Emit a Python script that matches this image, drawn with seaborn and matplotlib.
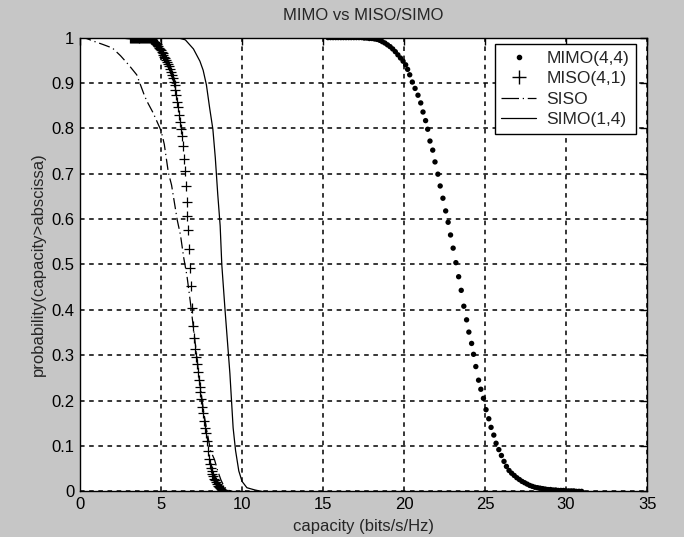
import matplotlib

matplotlib.use("Agg")
import matplotlib.pyplot as plt
import seaborn as sns
from matplotlib.lines import Line2D

# MIMO(4,4) complementary CDF (dots)
mimo_x = [
    15.30, 15.46, 15.62, 15.78, 15.94, 16.10, 16.26, 16.42, 16.58, 16.74,
    16.90, 17.06, 17.22, 17.38, 17.54, 17.70, 17.86, 18.02, 18.18, 18.34,
    18.50, 18.66, 18.82, 18.98, 19.14, 19.30, 19.46, 19.62, 19.78, 19.94,
    20.10, 20.22, 20.35, 20.51, 20.68, 20.86, 21.03, 21.17, 21.33, 21.46,
    21.60, 21.77, 21.91, 22.09, 22.23, 22.40, 22.57, 22.72, 22.87, 23.03,
    23.20, 23.37, 23.53, 23.69, 23.86, 24.00, 24.17, 24.29, 24.43, 24.60,
    24.74, 24.90, 25.06, 25.23, 25.37, 25.54, 25.68, 25.85, 26.01, 26.17,
    26.32, 26.48, 26.64, 26.80, 26.96, 27.12, 27.28, 27.44, 27.60, 27.76,
    27.92, 28.08, 28.24, 28.40, 28.56, 28.72, 28.88, 29.04, 29.20, 29.36,
    29.52, 29.68, 29.84, 30.00, 30.16, 30.32, 30.48, 30.64, 30.80, 30.96,
]
mimo_p = [
    1.000, 1.000, 1.000, 1.000, 1.000, 1.000, 1.000, 1.000, 1.000, 1.000,
    1.000, 1.000, 1.000, 1.000, 0.999, 0.999, 0.998, 0.998, 0.997, 0.996,
    0.994, 0.991, 0.988, 0.984, 0.980, 0.975, 0.969, 0.962, 0.955, 0.948,
    0.940, 0.930, 0.918, 0.902, 0.888, 0.873, 0.856, 0.836, 0.817, 0.798,
    0.772, 0.752, 0.726, 0.699, 0.673, 0.646, 0.618, 0.593, 0.565, 0.536,
    0.504, 0.473, 0.443, 0.408, 0.378, 0.351, 0.326, 0.302, 0.275, 0.245,
    0.225, 0.205, 0.180, 0.160, 0.141, 0.124, 0.106, 0.092, 0.079, 0.066,
    0.055, 0.046, 0.040, 0.035, 0.030, 0.026, 0.022, 0.019, 0.016, 0.013,
    0.011, 0.009, 0.008, 0.007, 0.006, 0.005, 0.004, 0.004, 0.003, 0.003,
    0.002, 0.002, 0.002, 0.001, 0.001, 0.001, 0.001, 0.000, 0.000, 0.000,
]

# MISO(4,1) complementary CDF (plus markers)
miso_x = [
    3.10, 3.16, 3.21, 3.27, 3.33, 3.39, 3.44, 3.50, 3.56, 3.61,
    3.67, 3.73, 3.78, 3.84, 3.90, 3.96, 4.01, 4.07, 4.13, 4.18,
    4.24, 4.30, 4.35, 4.41, 4.47, 4.53, 4.58, 4.64, 4.70, 4.75,
    4.81, 4.87, 4.92, 4.98, 5.04, 5.10, 5.15, 5.21, 5.27, 5.32,
    5.38, 5.44, 5.49, 5.55, 5.61, 5.67, 5.72, 5.78, 5.84, 5.89,
    5.95, 6.01, 6.06, 6.12, 6.18, 6.24, 6.29, 6.35, 6.41, 6.46,
    6.52, 6.58, 6.63, 6.69, 6.75, 6.81, 6.86, 6.92, 6.98, 7.03,
    7.09, 7.15, 7.20, 7.26, 7.32, 7.38, 7.43, 7.49, 7.55, 7.60,
    7.66, 7.72, 7.77, 7.83, 7.89, 7.95, 8.00, 8.06, 8.12, 8.17,
    8.23, 8.29, 8.34, 8.40, 8.46, 8.52, 8.57, 8.63, 8.69, 8.74,
    8.80,
]
miso_p = [
    1.000, 1.000, 1.000, 1.000, 1.000, 1.000, 1.000, 1.000, 1.000, 1.000,
    1.000, 1.000, 1.000, 1.000, 1.000, 1.000, 1.000, 0.999, 0.999, 0.999,
    0.998, 0.998, 0.997, 0.996, 0.994, 0.993, 0.991, 0.990, 0.988, 0.985,
    0.982, 0.978, 0.975, 0.972, 0.968, 0.965, 0.962, 0.958, 0.955, 0.951,
    0.947, 0.942, 0.938, 0.931, 0.924, 0.917, 0.910, 0.903, 0.895, 0.885,
    0.873, 0.859, 0.846, 0.830, 0.815, 0.798, 0.783, 0.760, 0.733, 0.707,
    0.673, 0.637, 0.607, 0.576, 0.535, 0.492, 0.452, 0.404, 0.364, 0.338,
    0.314, 0.295, 0.280, 0.262, 0.245, 0.230, 0.218, 0.203, 0.185, 0.172,
    0.155, 0.140, 0.128, 0.112, 0.089, 0.072, 0.060, 0.051, 0.044, 0.038,
    0.033, 0.028, 0.024, 0.020, 0.016, 0.012, 0.009, 0.007, 0.005, 0.003,
    0.002,
]

# SISO (dash-dot line)
siso_x = [0.0, 0.4, 1.0, 1.4, 2.0, 2.5, 3.0, 3.5, 4.0, 4.2, 4.5, 5.0, 5.2,
          5.45, 5.65, 6.0, 6.2, 6.4, 6.6, 6.8, 7.0, 7.2, 7.35, 7.5, 7.65,
          7.85, 8.05, 8.3, 8.5, 8.7, 8.9, 9.1, 9.4]
siso_p = [1.0, 0.998, 0.99, 0.985, 0.977, 0.96, 0.94, 0.918, 0.87, 0.855,
          0.835, 0.795, 0.765, 0.703, 0.675, 0.598, 0.565, 0.515, 0.475, 0.42,
          0.36, 0.30, 0.25, 0.21, 0.17, 0.13, 0.09, 0.07, 0.045, 0.025, 0.01,
          0.003, 0.0]

# SIMO(1,4) (solid line)
simo_x = [6.0, 6.5, 7.0, 7.4, 7.6, 7.8, 8.0, 8.2, 8.35, 8.5, 8.65, 8.75,
          8.95, 9.1, 9.25, 9.35, 9.45, 9.6, 9.8, 10.0, 10.3, 10.8, 11.2]
simo_p = [1.0, 0.995, 0.975, 0.948, 0.928, 0.896, 0.845, 0.798, 0.735,
          0.655, 0.585, 0.50, 0.40, 0.33, 0.26, 0.20, 0.14, 0.09, 0.045,
          0.022, 0.008, 0.003, 0.0]

x_ticks = [0, 5, 10, 15, 20, 25, 30, 35]
y_ticks = [0, 0.1, 0.2, 0.3, 0.4, 0.5, 0.6, 0.7, 0.8, 0.9, 1]
y_tick_labels = ["0", "0.1", "0.2", "0.3", "0.4", "0.5", "0.6", "0.7", "0.8", "0.9", "1"]

sns.set_style("white")
plt.rcParams["font.family"] = ["Liberation Sans", "DejaVu Sans"]

SISO_DASH = (0, (9, 3, 1, 3))

fig = plt.figure(figsize=(6.84, 5.37), dpi=100, facecolor="#c6c6c6")
ax = fig.add_axes([0.117, 0.085, 0.829, 0.845])
ax.set_facecolor("white")

sns.scatterplot(x=mimo_x, y=mimo_p, ax=ax, marker="o", s=15, color="black",
                edgecolor="none", zorder=3)
sns.scatterplot(x=miso_x, y=miso_p, ax=ax, marker="+", s=55, color="black",
                linewidth=0.9, zorder=3)
sns.lineplot(x=siso_x, y=siso_p, ax=ax, color="black", sort=False, estimator=None,
             linewidth=0.9, linestyle=SISO_DASH, zorder=3)
sns.lineplot(x=simo_x, y=simo_p, ax=ax, color="black", sort=False, estimator=None,
             linewidth=0.9, zorder=3)

ax.set_xlim(0, 35)
ax.set_ylim(0, 1)
ax.set_xticks(x_ticks)
ax.set_yticks(y_ticks)
ax.set_yticklabels(y_tick_labels)
ax.grid(True, color="black", linestyle=(0, (3, 3)), linewidth=1.1)
ax.tick_params(direction="in", length=5, width=1, colors="black", labelsize=12,
               top=True, right=True, pad=4)
for spine in ax.spines.values():
    spine.set_color("black")
    spine.set_linewidth(1.0)

ax.set_title("MIMO vs MISO/SIMO", fontsize=12, pad=13)
ax.set_xlabel("capacity (bits/s/Hz)", fontsize=12, labelpad=5)
ax.set_ylabel("probability(capacity>abscissa)", fontsize=12, labelpad=4)

handles = [
    Line2D([], [], color="black", marker="o", markersize=3, linestyle="none"),
    Line2D([], [], color="black", marker="+", markersize=10, linestyle="none"),
    Line2D([], [], color="black", linewidth=0.9, linestyle=(0, (14, 3, 1, 3))),
    Line2D([], [], color="black", linewidth=0.9),
]
leg = ax.legend(handles, ["MIMO(4,4)", "MISO(4,1)", "SISO", "SIMO(1,4)"],
                loc="upper right", bbox_to_anchor=(0.981, 0.986), borderaxespad=0,
                fontsize=12.5, frameon=True, fancybox=False, framealpha=1,
                edgecolor="black", handlelength=2.0, handletextpad=0.6,
                labelspacing=0.3, borderpad=0.4)
leg.get_frame().set_linewidth(1.0)

fig.savefig("out.png", dpi=100, facecolor=fig.get_facecolor())
